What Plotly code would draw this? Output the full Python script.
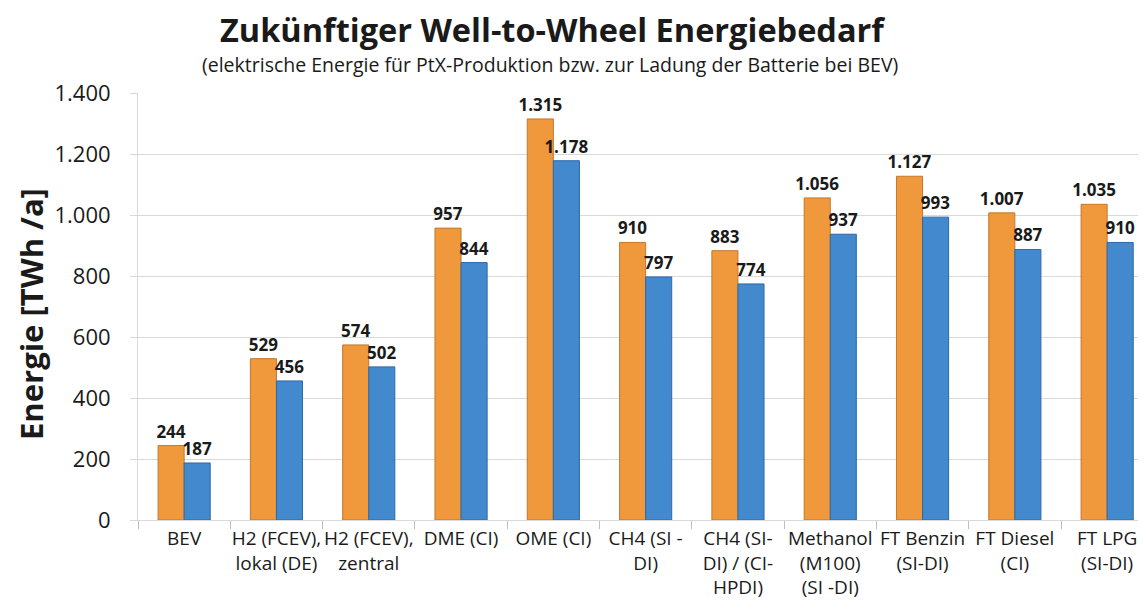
import plotly.graph_objects as go

categories = [
    "BEV",
    "H2 (FCEV),<br>lokal (DE)",
    "H2 (FCEV),<br>zentral",
    "DME (CI)",
    "OME (CI)",
    "CH4 (SI -<br>DI)",
    "CH4 (SI-<br>DI) / (CI-<br>HPDI)",
    "Methanol<br>(M100)<br>(SI -DI)",
    "FT Benzin<br>(SI-DI)",
    "FT Diesel<br>(CI)",
    "FT LPG<br>(SI-DI)",
]
series_orange = [244, 529, 574, 957, 1315, 910, 883, 1056, 1127, 1007, 1035]
series_blue = [187, 456, 502, 844, 1178, 797, 774, 937, 993, 887, 910]
y_ticks = [0, 200, 400, 600, 800, 1000, 1200, 1400]
title_text = "Zukünftiger Well-to-Wheel Energiebedarf"
subtitle_text = "(elektrische Energie für PtX-Produktion bzw. zur Ladung der Batterie bei BEV)"
y_title = "Energie [TWh /a]"

FONT = "Open Sans"
# page body has an 8px margin; figure is sized to fit the 1146x610 window
W, H = 1130, 594
L, T, B = 130, 85, 82
plot_w = W - L
plot_h = H - T - B
cat_px = 92.3


def px_x(page_x):
    return (page_x - 8 - L) / plot_w


def px_y(page_y):
    return 1 - (page_y - 8 - T) / plot_h


fig = go.Figure()
fig.add_trace(go.Bar(
    x=categories, y=series_orange, name="A",
    marker=dict(color="#EF983C", line=dict(color="#C4772C", width=1)),
    texttemplate="%{y:,d}", textposition="outside", constraintext="none",
    cliponaxis=False,
    textfont=dict(family=FONT, size=17, color="#1a1a1a", weight="bold"),
))
fig.add_trace(go.Bar(
    x=categories, y=series_blue, name="B",
    marker=dict(color="#4389CD", line=dict(color="#2C69A7", width=1)),
    texttemplate="%{y:,d}", textposition="outside", constraintext="none",
    cliponaxis=False,
    textfont=dict(family=FONT, size=17, color="#1a1a1a", weight="bold"),
))

fig.update_layout(
    width=W, height=H,
    separators=",.",
    barmode="group",
    bargap=0.435, bargroupgap=0,
    showlegend=False,
    plot_bgcolor="white", paper_bgcolor="white",
    margin=dict(l=L, r=0, t=T, b=B, autoexpand=False),
    font=dict(family=FONT, color="#1a1a1a"),
    annotations=[
        dict(
            text="<b>" + title_text + "</b>",
            xref="paper", yref="paper", x=px_x(553), y=px_y(29),
            xanchor="center", yanchor="middle", showarrow=False,
            font=dict(family=FONT, size=32.5, color="#1a1a1a"),
        ),
        dict(
            text=subtitle_text,
            xref="paper", yref="paper", x=px_x(550), y=px_y(65),
            xanchor="center", yanchor="middle", showarrow=False,
            font=dict(family=FONT, size=19.5, color="#1a1a1a"),
        ),
        dict(
            text="<b>" + y_title + "</b>", textangle=-90,
            xref="paper", yref="paper", x=px_x(31), y=px_y(314),
            xanchor="center", yanchor="middle", showarrow=False,
            font=dict(family=FONT, size=31, color="#1a1a1a"),
        ),
    ],
    yaxis=dict(
        range=[0, 1400], tickvals=y_ticks, tickformat=",d",
        showgrid=True, gridcolor="#D9D9D9", gridwidth=1,
        showline=True, linecolor="#D9D9D9", linewidth=1,
        ticks="outside", ticklen=7, tickcolor="#D9D9D9",
        ticklabelstandoff=15,
        tickfont=dict(family=FONT, size=22, color="#1a1a1a"),
        zeroline=False,
    ),
    xaxis=dict(
        range=[-0.5, -0.5 + plot_w / cat_px],
        showline=True, linecolor="#D9D9D9", linewidth=1,
        ticks="outside", tickson="boundaries", ticklen=8, tickcolor="#BFBFBF",
        ticklabelstandoff=1,
        tickfont=dict(family=FONT, size=19, color="#1a1a1a"),
        showgrid=False, tickangle=0,
    ),
)

fig.write_html("out.html")
